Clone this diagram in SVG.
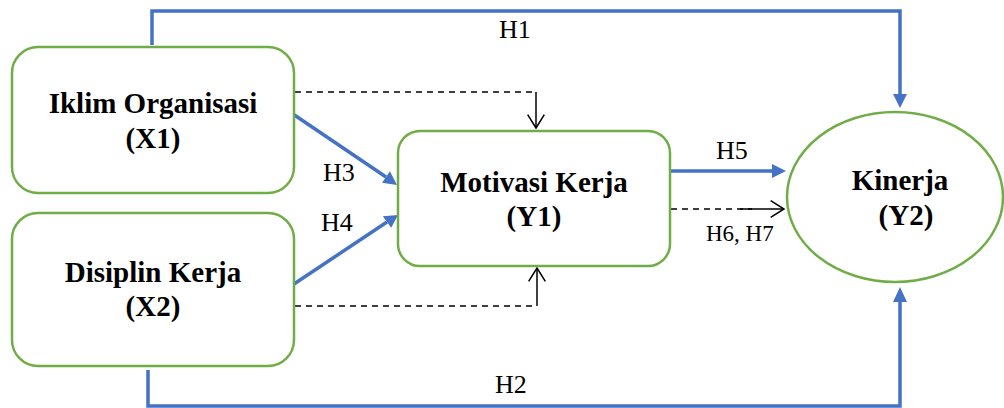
<svg xmlns="http://www.w3.org/2000/svg" width="1004" height="408" viewBox="0 0 1004 408">
  <defs>
    <marker id="openHead" viewBox="0 0 12 12" refX="11" refY="6" markerWidth="20" markerHeight="20" markerUnits="userSpaceOnUse" orient="auto">
      <path d="M3,1 L11,6 L3,11" fill="none" stroke="#000" stroke-width="0.9"/>
    </marker>
    <style>
      .box { fill: #fff; stroke: #70AD47; stroke-width: 2.5; }
      .title { font-family: "Liberation Serif", "Times New Roman", serif; font-weight: bold; font-size: 29px; fill: #000; text-anchor: middle; }
      .lbl { font-family: "Liberation Serif", "Times New Roman", serif; font-size: 26px; fill: #000; }
      .lbl-sm { font-family: "Liberation Serif", "Times New Roman", serif; font-size: 23px; fill: #000; }
      .path { fill: none; stroke: #4472C4; stroke-width: 3.5; }
      .dash { fill: none; stroke: #000; stroke-width: 1.5; stroke-dasharray: 6 5; }
      .tail { fill: none; stroke: #000; stroke-width: 1.5; }
    </style>
  </defs>

  <!-- connectors -->
  <g id="connectors">
    <!-- H1: X1 to Y2 over the top -->
    <polyline class="path" points="152,45 152,11 900,11 900,94" />
    <path d="M893,94 L907,94 L900,108 Z" fill="#4472C4"/>
    <!-- H2: X2 to Y2 along the bottom -->
    <polyline class="path" points="148,370 148,406 900,406 900,302" />
    <path d="M893,302 L907,302 L900,287 Z" fill="#4472C4"/>
    <!-- H3, H4 into Y1 -->
    <line class="path" x1="284" y1="108" x2="386" y2="177" />
    <path d="M389.9,171.2 L382.1,182.8 L397,185 Z" fill="#4472C4"/>
    <line class="path" x1="294" y1="284" x2="387" y2="222" />
    <path d="M382.8,216.2 L391.2,227.8 L398,215 Z" fill="#4472C4"/>
    <!-- H5: Y1 to Y2 -->
    <line class="path" x1="670" y1="171" x2="772" y2="171" />
    <path d="M772,164 L772,178 L786,171 Z" fill="#4472C4"/>
    <!-- mediated paths (dashed) -->
    <polyline class="dash" points="295,92 536,92" />
    <line class="tail" x1="536" y1="92" x2="536" y2="128" marker-end="url(#openHead)" />
    <polyline class="dash" points="295,306 537,306" />
    <line class="tail" x1="537" y1="306" x2="537" y2="268" marker-end="url(#openHead)" />
    <line class="dash" x1="671" y1="209" x2="752" y2="209" />
    <line class="tail" x1="740" y1="209" x2="784" y2="209" marker-end="url(#openHead)" />
  </g>

  <!-- nodes -->
  <g id="node-x1">
    <rect class="box" x="12" y="47" width="282" height="146" rx="26" ry="26"/>
    <text class="title" x="153" y="113">Iklim Organisasi</text>
    <text class="title" x="153" y="148">(X1)</text>
  </g>
  <g id="node-x2">
    <rect class="box" x="12" y="213" width="282" height="153" rx="26" ry="26"/>
    <text class="title" x="153" y="282">Disiplin Kerja</text>
    <text class="title" x="153" y="316">(X2)</text>
  </g>
  <g id="node-y1">
    <rect class="box" x="398" y="131" width="272" height="135" rx="22" ry="22"/>
    <text class="title" x="534" y="192">Motivasi Kerja</text>
    <text class="title" x="534" y="226">(Y1)</text>
  </g>
  <g id="node-y2">
    <ellipse class="box" cx="895" cy="197" rx="108" ry="85"/>
    <text class="title" x="900" y="190">Kinerja</text>
    <text class="title" x="906" y="225">(Y2)</text>
  </g>

  <!-- hypothesis labels -->
  <g id="labels">
    <text class="lbl" x="499" y="38">H1</text>
    <text class="lbl" x="495" y="393">H2</text>
    <text class="lbl" x="323" y="181">H3</text>
    <text class="lbl" x="321" y="231">H4</text>
    <text class="lbl" x="716" y="159">H5</text>
    <text class="lbl-sm" x="706" y="241">H6, H7</text>
  </g>
</svg>
